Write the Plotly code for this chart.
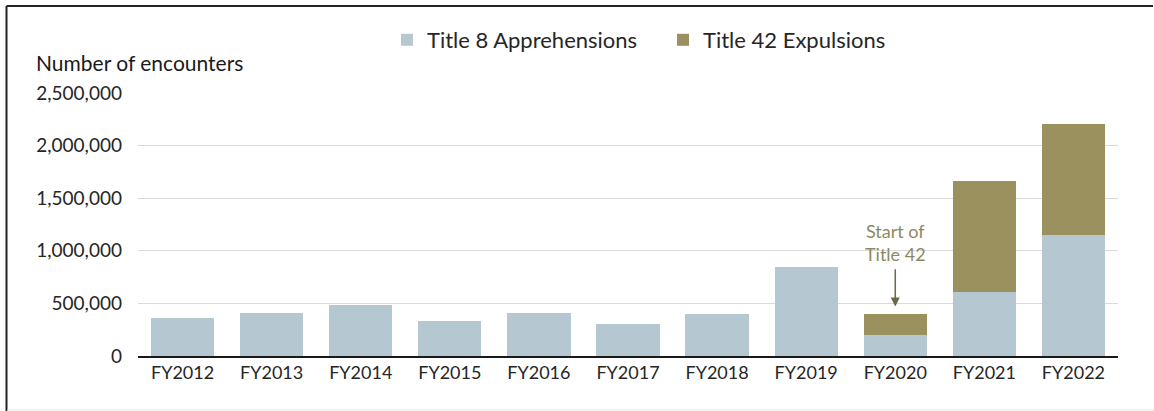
import plotly.graph_objects as go

years = ["FY2012", "FY2013", "FY2014", "FY2015", "FY2016", "FY2017",
         "FY2018", "FY2019", "FY2020", "FY2021", "FY2022"]
title8 = [362000, 412000, 482000, 334000, 410000, 300000,
          398000, 848000, 200000, 612000, 1150000]
title42 = [0, 0, 0, 0, 0, 0, 0, 0, 197000, 1050000, 1055000]
y_ticks = [0, 500000, 1000000, 1500000, 2000000, 2500000]

C8 = "#b5c7d1"
C42 = "#9a915e"
FONT = "Lato"

# plot area in pixels
L, R, T, B = 138, 36, 93, 55
W, H = 1154, 411
pw, ph = W - L - R, H - T - B

def px_x(x):
    return (x - L) / pw

def px_y(y):
    return (H - B - y) / ph

fig = go.Figure()
fig.add_trace(go.Bar(x=years, y=title8, name="Title 8 Apprehensions",
                     marker=dict(color=C8, line=dict(width=0))))
fig.add_trace(go.Bar(x=years, y=title42, name="Title 42 Expulsions",
                     marker=dict(color=C42, line=dict(width=0))))

fig.update_layout(
    barmode="stack",
    bargap=0.29,
    width=W, height=H,
    margin=dict(l=L, r=R, t=T, b=B),
    paper_bgcolor="white",
    plot_bgcolor="white",
    font=dict(family=FONT, size=18, color="#262626"),
    showlegend=True,
    legend=dict(orientation="h", x=px_x(387), xanchor="left", y=px_y(40), yanchor="middle",
                font=dict(size=22, color="#262626"), traceorder="normal",
                bgcolor="rgba(0,0,0,0)",
                entrywidth=231, entrywidthmode="pixels"),
    xaxis=dict(showgrid=False, showline=True, linecolor="#1a1a1a", linewidth=1.5,
               ticks="", tickfont=dict(size=18), fixedrange=True),
    yaxis=dict(range=[0, 2500000], tickvals=y_ticks, tickformat=",", showgrid=True,
               gridcolor="#dadada", gridwidth=1, zeroline=False, showline=False,
               ticks="", ticklabelstandoff=15, tickfont=dict(size=19)),
)

fig.add_annotation(text="Number of encounters", xref="paper", yref="paper",
                   x=px_x(34), y=px_y(62), xanchor="left", yanchor="middle",
                   showarrow=False, font=dict(size=21, color="#1a1a1a"))

# arrow for start of Title 42
fig.add_annotation(x="FY2020", y=470000, ax="FY2020", ay=840000,
                   xref="x", yref="y", axref="x", ayref="y",
                   showarrow=True, arrowhead=2, arrowsize=1.2, arrowwidth=1.5,
                   arrowcolor="#6b6945", text="")
fig.add_annotation(x="FY2020", y=845000, xref="x", yref="y", text="Start of<br>Title 42",
                   showarrow=False, yanchor="bottom", align="center",
                   font=dict(size=18, color="#8c8962"))

# outer frame: top and left dark lines, faint bottom line
x_l, x_r = px_x(6.5), px_x(1153)
y_t, y_b = px_y(6), px_y(411)
fig.add_shape(type="line", xref="paper", yref="paper",
              x0=x_l, x1=x_r, y0=y_t, y1=y_t,
              line=dict(color="#222222", width=2), layer="above")
fig.add_shape(type="line", xref="paper", yref="paper",
              x0=x_l, x1=x_l, y0=y_t, y1=y_b,
              line=dict(color="#222222", width=2), layer="above")
fig.add_shape(type="line", xref="paper", yref="paper",
              x0=px_x(7), x1=px_x(1154), y0=px_y(410), y1=px_y(410),
              line=dict(color="#e6e6e6", width=1))

fig.write_html("out.html", config={"displayModeBar": False},
               post_script="document.body.style.margin='0';document.body.style.overflow='hidden';")
